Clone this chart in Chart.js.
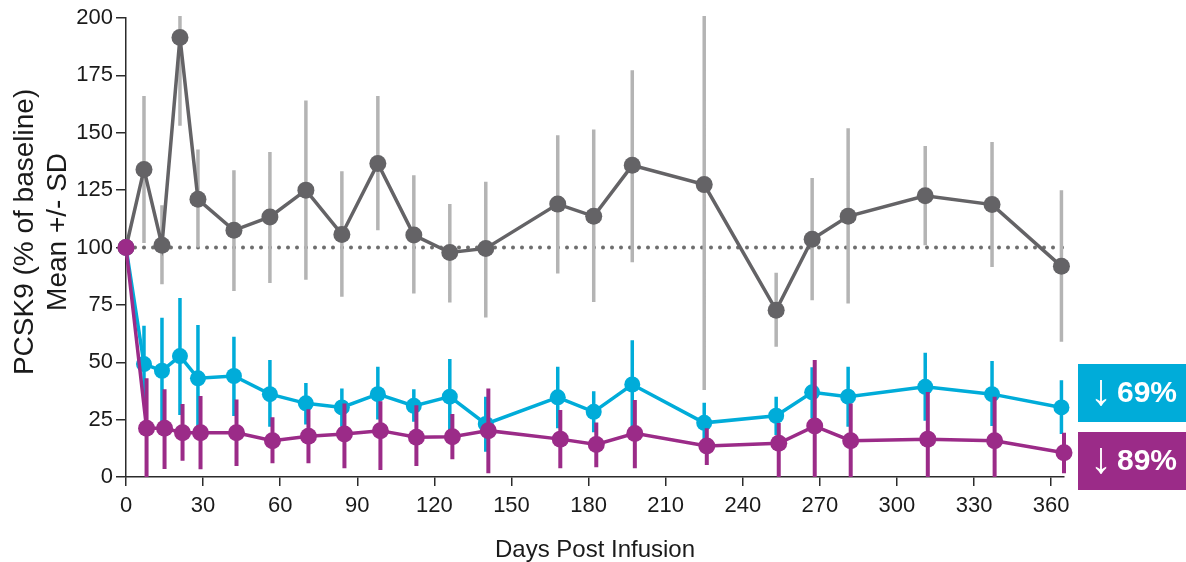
<!DOCTYPE html>
<html>
<head>
<meta charset="utf-8">
<title>PCSK9 % of baseline</title>
<script src="https://cdn.jsdelivr.net/npm/chart.js@4.4.1/dist/chart.umd.min.js"></script>
<style>
  html, body { margin: 0; padding: 0; background: #fff; }
  canvas { display: block; }
</style>
</head>
<body>
<canvas id="pcsk9" width="1186" height="562"></canvas>
<script>
/* globals Chart:false */

// days on the x axis (the purple series is plotted about a day later)
var days = [0, 7, 14, 21, 28, 42, 56, 70, 84, 98, 112, 126, 140, 168, 182, 197, 225, 253, 267, 281, 311, 337, 364]
var purpleDays = [0, 8, 15, 22, 29, 43, 57, 71, 85, 99, 113, 127, 141, 169, 183, 198, 226, 254, 268, 282, 312, 338, 365]

var grayMean = [100, 134, 101, 191.5, 121, 107.5, 113.3, 125, 105.7, 136.6, 105.4, 97.8, 99.6, 118.9, 113.6, 135.8, 127.4, 72.7, 103.6, 113.6, 122.5, 118.7, 91.8]
var grayLow = [100, 102, 84, 153, 100, 81, 84.5, 86, 78.5, 107.5, 80, 76, 69.5, 88.7, 76.3, 93.6, 37.9, 56.7, 77, 75.6, 101, 91.5, 58.9]
var grayHigh = [100, 166, 118.4, 205, 142.7, 133.7, 141.6, 164, 133.2, 166, 131.5, 119, 128.6, 148.9, 151.4, 177.2, 205, 89, 130.3, 152, 144.2, 146, 125]

var blueMean = [100, 49.2, 46.3, 52.7, 43, 44, 36.1, 32.1, 30.3, 36.1, 31, 35, 23.1, 34.7, 28.4, 40.3, 23.6, 26.7, 36.9, 35, 39.3, 36.1, 30.3]
var blueLow = [100, 32, 23.4, 27, 21.9, 26.6, 21.9, 22.9, 21.9, 25.1, 24.1, 17.5, 11, 21.2, 19.5, 21, 14.9, 18.3, 25.6, 21.9, 24.5, 22.2, 18.7]
var blueHigh = [100, 65.9, 69.4, 78, 66.2, 61.1, 51, 41, 38.6, 48, 38.2, 51.4, 35, 48, 37.4, 59.6, 32.3, 35, 47.8, 48, 54.1, 50.5, 42.2]

var purpleMean = [100, 21.2, 21.2, 19.3, 19.3, 19.3, 15.8, 17.8, 18.7, 20.2, 17.3, 17.5, 20.2, 16.5, 14.2, 19, 13.5, 14.7, 22.2, 15.8, 16.5, 15.8, 10.6]
var purpleLow = [100, 0, 3.5, 7.1, 3.4, 4.8, 6, 6, 3.8, 3, 4.8, 7.7, 1.6, 3.8, 4.2, 3.8, 5.2, 0, 0, 0, 0, 0, 1.6]
var purpleHigh = [100, 43, 38.2, 31.8, 35.3, 33.8, 26, 29.5, 32, 33, 31.3, 27.4, 38.6, 29.2, 23.8, 33.5, 21.2, 23.5, 51, 32, 37, 35, 19.3]

var baselineDays = [0, 365]
var baselineValue = [100, 100]

var xTicks = [0, 30, 60, 90, 120, 150, 180, 210, 240, 270, 300, 330, 360]
var yTicks = [0, 25, 50, 75, 100, 125, 150, 175, 200]

var reductionLabels = ['69%', '89%']

;(function () {
  'use strict'

  var FONT = '"Liberation Sans", Arial, Helvetica, sans-serif'
  var DARK = '#646366'
  var LIGHT = '#b4b4b4'
  var BLUE = '#00acd9'
  var PURPLE = '#9b2b88'

  function pts (xs, ys) {
    return xs.map(function (x, i) { return { x: x, y: ys[i] } })
  }

  // vertical SD bars under each series, drawn through the chart scales
  var errorBars = {
    id: 'errorBars',
    beforeDatasetDraw: function (chart, args) {
      var ds = chart.data.datasets[args.index]
      if (!ds.errLow) return
      var ctx = chart.ctx
      var xs = chart.scales.x
      var ys = chart.scales.y
      var a = chart.chartArea
      ctx.save()
      ctx.beginPath()
      ctx.rect(a.left, a.top - 2, a.right - a.left + 10, a.bottom - a.top + 2)
      ctx.clip()
      ctx.strokeStyle = ds.errColor
      ctx.lineWidth = ds.errWidth
      ctx.lineCap = 'butt'
      ctx.beginPath()
      ds.data.forEach(function (p, i) {
        if (ds.errLow[i] === ds.errHigh[i]) return
        var px = xs.getPixelForValue(p.x)
        ctx.moveTo(px, ys.getPixelForValue(ds.errLow[i]))
        ctx.lineTo(px, ys.getPixelForValue(ds.errHigh[i]))
      })
      ctx.stroke()
      ctx.restore()
    }
  }

  // the coloured "down by" boxes at the right of the plot
  var reductionBoxes = {
    id: 'reductionBoxes',
    afterDraw: function (chart) {
      var ctx = chart.ctx
      var a = chart.chartArea
      var left = a.right + 14
      var boxes = [
        { top: a.bottom - 113, color: BLUE, text: reductionLabels[0] },
        { top: a.bottom - 45, color: PURPLE, text: reductionLabels[1] }
      ]
      ctx.save()
      boxes.forEach(function (b) {
        ctx.fillStyle = b.color
        ctx.fillRect(left, b.top, chart.width - left, 58)
        ctx.fillStyle = '#fff'
        ctx.textBaseline = 'middle'
        ctx.textAlign = 'left'
        ctx.font = '44px ' + FONT
        ctx.fillText('\u2193', left + 12, b.top + 29)
        ctx.font = 'bold 30px ' + FONT
        ctx.fillText(b.text, left + 39, b.top + 30)
      })
      ctx.restore()
    }
  }

  var data = {
    datasets: [
      {
        label: 'Baseline',
        data: pts(baselineDays, baselineValue),
        borderColor: '#6e6e6e',
        borderWidth: 4,
        borderDash: [0, 9],
        borderCapStyle: 'round',
        pointRadius: 0,
        order: 4
      },
      {
        label: 'Control',
        data: pts(days, grayMean),
        errLow: grayLow,
        errHigh: grayHigh,
        errColor: LIGHT,
        errWidth: 3.5,
        borderColor: DARK,
        backgroundColor: DARK,
        borderWidth: 3.5,
        pointRadius: 8.5,
        pointBorderWidth: 0,
        pointBackgroundColor: DARK,
        order: 3
      },
      {
        label: 'Low dose',
        data: pts(days, blueMean),
        errLow: blueLow,
        errHigh: blueHigh,
        errColor: BLUE,
        errWidth: 3.5,
        borderColor: BLUE,
        backgroundColor: BLUE,
        borderWidth: 3.5,
        pointRadius: 8,
        pointBorderWidth: 0,
        pointBackgroundColor: BLUE,
        order: 2
      },
      {
        label: 'High dose',
        data: pts(purpleDays, purpleMean),
        errLow: purpleLow,
        errHigh: purpleHigh,
        errColor: PURPLE,
        errWidth: 4,
        borderColor: PURPLE,
        backgroundColor: PURPLE,
        borderWidth: 3.5,
        pointRadius: 8.5,
        pointBorderWidth: 0,
        pointBackgroundColor: PURPLE,
        order: 1
      }
    ]
  }

  var axisColor = '#2b2b2b'

  var options = {
    responsive: false,
    animation: false,
    clip: false,
    layout: { padding: { top: 18, right: 122, bottom: 0, left: 0 } },
    plugins: {
      legend: { display: false },
      tooltip: { enabled: false }
    },
    scales: {
      x: {
        type: 'linear',
        min: 0,
        max: 365,
        afterBuildTicks: function (s) { s.ticks = xTicks.map(function (v) { return { value: v } }) },
        afterFit: function (s) { s.height = 85 },
        ticks: { color: '#1a1a1a', font: { family: FONT, size: 22 }, padding: 7, maxRotation: 0 },
        grid: { drawOnChartArea: false, drawTicks: true, tickLength: 9, color: axisColor, tickColor: axisColor, lineWidth: 1.5 },
        border: { color: axisColor, width: 1.5 },
        title: { display: true, text: 'Days Post Infusion', color: '#1a1a1a', font: { family: FONT, size: 24, lineHeight: 1 }, padding: { top: 0, bottom: 0 } }
      },
      y: {
        type: 'linear',
        min: 0,
        max: 200,
        afterBuildTicks: function (s) { s.ticks = yTicks.map(function (v) { return { value: v } }) },
        afterFit: function (s) { s.width = 126 },
        ticks: { color: '#1a1a1a', font: { family: FONT, size: 22 }, padding: 3 },
        grid: { drawOnChartArea: false, drawTicks: true, tickLength: 10, color: axisColor, tickColor: axisColor, lineWidth: 1.5 },
        border: { color: axisColor, width: 1.5 },
        title: {
          display: true,
          // leading spaces nudge the rotated title up, as in the original
          text: ['    PCSK9 (% of baseline)', '    Mean +/- SD'],
          color: '#1a1a1a',
          font: { family: FONT, size: 28 },
          padding: { top: 8, bottom: 0 }
        }
      }
    }
  }

  var config = {
    type: 'line',
    data: data,
    options: options,
    plugins: [errorBars, reductionBoxes]
  }

  var myChart = new Chart(document.getElementById('pcsk9'), config)
})()
</script>
</body>
</html>
